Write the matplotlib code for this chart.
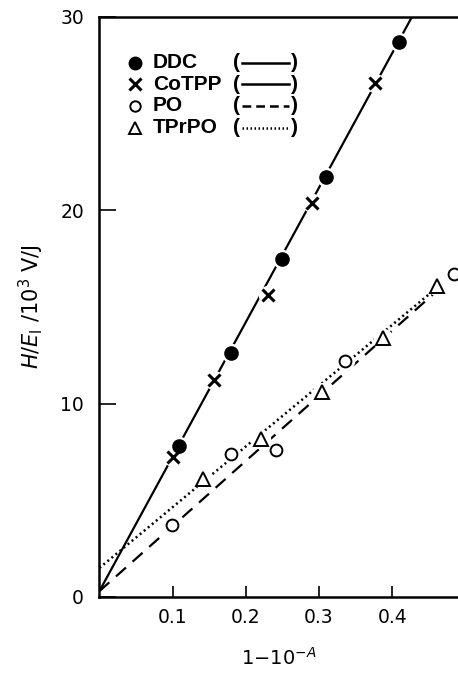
import matplotlib.pyplot as plt

# --- datos ---
ddc_x = [0.109, 0.180, 0.249, 0.310, 0.409]
ddc_y = [7.8, 12.6, 17.5, 21.7, 28.7]
cotpp_x = [0.100, 0.157, 0.230, 0.290, 0.377]
cotpp_y = [7.25, 11.2, 15.6, 20.4, 26.6]
po_x = [0.099, 0.180, 0.241, 0.336, 0.484]
po_y = [3.7, 7.4, 7.6, 12.2, 16.7]
tprpo_x = [0.141, 0.221, 0.304, 0.388, 0.461]
tprpo_y = [6.1, 8.15, 10.6, 13.4, 16.1]

# rectas de ajuste (extremos)
solid_x = [0.0, 0.427]
solid_y = [0.3, 30.0]
dash_x = [0.0, 0.49]
dash_y = [0.3, 16.8]
dot_x = [0.0, 0.49]
dot_y = [1.5, 16.9]

legend_names = ['DDC', 'CoTPP', 'PO', 'TPrPO']

plt.rcParams['font.family'] = 'DejaVu Sans'

fig = plt.figure(figsize=(4.58, 6.78), dpi=100)
ax = fig.add_axes([0.217, 0.1195, 0.783, 0.8555])

# lineas de ajuste
ax.plot(solid_x, solid_y, color='black', lw=1.6, zorder=1)
ax.plot(dash_x, dash_y, color='black', lw=1.6, ls=(0, (6, 4)), zorder=1)
ax.plot(dot_x, dot_y, color='black', lw=1.8, ls=(0, (0.8, 1.3)), zorder=1)

# huecos blancos alrededor de los marcadores
for xs, ys in [(ddc_x, ddc_y), (cotpp_x, cotpp_y), (po_x, po_y), (tprpo_x, tprpo_y)]:
    ax.plot(xs, ys, ls='none', marker='o', ms=13, color='white', zorder=2)

ax.plot(ddc_x, ddc_y, ls='none', marker='o', ms=9.5, color='black', zorder=3)
ax.plot(cotpp_x, cotpp_y, ls='none', marker='x', ms=9, mew=2.2, color='black', zorder=3)
ax.plot(po_x, po_y, ls='none', marker='o', ms=8.5, mfc='white', mec='black', mew=1.4, zorder=3)
ax.plot(tprpo_x, tprpo_y, ls='none', marker='^', ms=9.5, mfc='white', mec='black', mew=1.4, zorder=3)

# leyenda manual
rows = [0.921, 0.884, 0.847, 0.809]
lmarks = [dict(marker='o', ms=9, color='black'),
          dict(marker='x', ms=8, mew=2.2, color='black'),
          dict(marker='o', ms=7.5, mfc='white', mec='black', mew=1.4),
          dict(marker='^', ms=8.5, mfc='white', mec='black', mew=1.4)]
lstyles = ['-', '-', (0, (3.5, 2.0)), (0, (0.6, 1.0))]
for yy, name, mk, st in zip(rows, legend_names, lmarks, lstyles):
    ax.plot([0.099], [yy], transform=ax.transAxes, ls='none', clip_on=False, **mk)
    ax.text(0.149, yy, name, transform=ax.transAxes, fontsize=15,
            family='Liberation Sans', fontweight='bold', va='center', ha='left')
    ax.text(0.372, yy, '(', transform=ax.transAxes, fontsize=15,
            family='Liberation Sans', fontweight='bold', va='center', ha='left')
    ax.text(0.553, yy, ')', transform=ax.transAxes, fontsize=15,
            family='Liberation Sans', fontweight='bold', va='center', ha='right')
    ax.plot([0.397, 0.530], [yy, yy], transform=ax.transAxes, color='black',
            lw=1.8, ls=st)

# ejes
ax.set_xlim(0, 0.49)
ax.set_ylim(0, 30)
ax.set_xticks([0.1, 0.2, 0.3, 0.4])
ax.set_xticklabels(['0.1', '0.2', '0.3', '0.4'])
ax.set_yticks([0, 10, 20, 30])
ax.tick_params(axis='x', direction='in', length=8, width=1.2, labelsize=13.5, pad=8)
ax.tick_params(axis='y', direction='in', length=12, width=1.2, labelsize=13.5, pad=11)
ax.spines['right'].set_visible(False)
for s in ['left', 'top', 'bottom']:
    ax.spines[s].set_linewidth(1.8)

ax.set_xlabel(r'1$-$10$^{-A}$', fontsize=14, labelpad=14)
ax.set_ylabel(r'$H/E_\mathrm{l}$ /10$^3$ V/J', fontsize=15, labelpad=10)

fig.savefig('out.png', dpi=100)
